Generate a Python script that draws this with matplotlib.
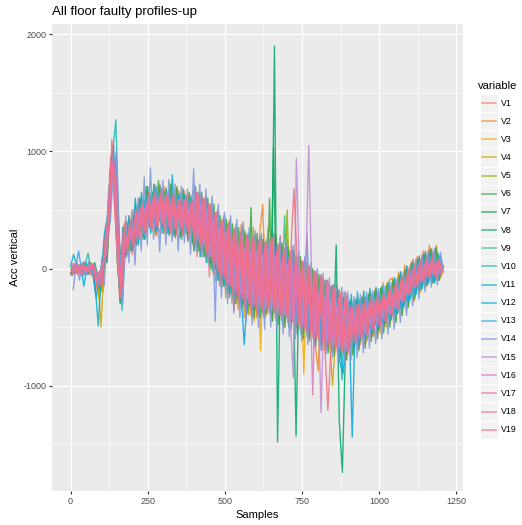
import matplotlib
matplotlib.use("Agg")
import matplotlib.pyplot as plt
from matplotlib.patches import Rectangle
from matplotlib.lines import Line2D

plt.rcParams['font.family'] = ['Liberation Sans', 'DejaVu Sans']
plt.rcParams['axes.unicode_minus'] = False

# sample grid (every 10th sample); each profile was logged with its own start offset
samples = list(range(0, 1201, 10))
start_offsets = [0, 3, 6, 9, 2, 5, 8, 1, 4, 7, 0, 3, 6, 9, 2, 5, 8, 1, 4]

# series (acc vertical)
V1 = [-50, 10, -40, 20, -60, 30, -20, 40, -200, -60,
      -150, 250, 420, 950, 650, 200, -280, 350, 100, 450,
      120, 560, 250, 620, 300, 700, 330, 650, 280, 720,
      350, 690, 300, 640, 260, 620, 300, 660, 230, 600,
      670, 100, 580, 100, 620, -70, 480, -110, 470, -160,
      450, -220, 310, -360, 320, -240, 400, -360, 190, -430,
      300, -380, 250, -420, 350, -300, 220, -450, 280, -380,
      200, -420, 150, -480, 100, -500, 80, -560, 30, -600,
      -20, -650, -100, -700, -150, -720, -200, -760, -250, -740,
      -720, -270, -690, -250, -650, -230, -610, -190, -580, -170,
      -520, -160, -470, -120, -440, -80, -380, -30, -320, 20,
      -230, 80, -200, 110, -150, 150, -110, 170, -120, 120,
      -20]
V2 = [30, -50, 40, -60, 60, -30, 50, -40, -100, -250,
      100, 50, 650, 800, 900, -50, 50, 150, 400, 200,
      500, 200, 600, 300, 250, 650, 400, 720, 350, 300,
      700, 350, 650, 300, 680, 650, 280, 600, 640, 250,
      150, 650, 100, 600, 50, 550, -50, 480, -150, 420,
      -250, 400, -300, 350, -350, 380, -420, 300, -400, 350,
      -420, 300, 550, -380, 250, -450, 300, -400, 200, -500,
      250, -450, 200, -500, 100, -550, 50, -600, -20, -650,
      -870, -50, -700, -100, -720, -150, -150, -760, -200, -780,
      -300, -700, -280, -680, -250, -650, -600, -200, -580, -180,
      -550, -120, -500, -100, -80, -450, -30, -400, 30, -330,
      50, -280, 100, -200, 150, -150, 200, -130, 180, -100,
      30]
V3 = [-20, 40, -60, 10, 30, -50, 40, -30, -150, -20,
      -200, 300, 350, 1000, 700, 300, -250, 400, 150, 350,
      200, 500, 550, 280, 650, 350, 620, 280, 700, 400,
      300, 620, 700, 320, 600, 280, 650, 350, 620, 250,
      650, 250, 600, 150, 550, 50, 450, -50, 400, -150,
      380, -200, 300, -300, 250, -350, 300, -400, 250, -450,
      200, -700, 300, -400, 250, -350, 280, -420, 200, -450,
      150, -480, 100, -500, 50, -900, 0, -580, -50, -600,
      -100, -640, -160, -680, -200, -700, -240, -720, -300, -700,
      -260, -720, -300, -650, -240, -620, -220, -580, -180, -560,
      -160, -500, -120, -460, -100, -420, -50, -360, 0, -300,
      60, -260, 90, -200, 130, -140, 170, -120, 200, -90,
      -40]
V4 = [40, -30, 20, -60, -20, 40, -40, 30, -120, -500,
      80, 100, 550, 850, 750, 150, -100, 200, 300, 250,
      350, 300, 450, 380, 500, 430, 540, 450, 560, 440,
      560, 430, 540, 400, 520, 400, 510, 390, 500, 380,
      600, 300, 550, 250, 480, 150, 380, 50, 300, -50,
      250, -100, 200, -150, 150, -200, 180, -220, 150, -250,
      150, -250, 120, -280, 180, -250, 100, -300, 80, -320,
      60, -350, 20, -380, -20, -400, -60, -420, -100, -480,
      -150, -520, -200, -560, -1000, -600, -300, -640, -350, -660,
      -420, -560, -400, -520, -380, -500, -350, -450, -320, -420,
      -300, -400, -250, -350, -220, -300, -180, -260, -120, -200,
      -60, -130, -20, -100, 20, -50, 60, -30, 50, -40,
      20]
V5 = [0, -40, 30, -20, 50, -10, 20, 0, -40, -150,
      50, 200, 450, 800, 850, 50, -200, 300, 200, 380,
      250, 420, 350, 500, 400, 560, 420, 580, 450, 560,
      430, 570, 420, 540, 400, 530, 390, 520, 380, 500,
      550, 200, 500, 150, 450, 100, 350, 0, 280, -50,
      300, -150, 250, -200, 220, -250, 200, -250, 180, -300,
      200, -300, 150, -280, 180, -320, 150, -350, 100, -380,
      500, -400, 40, -420, 0, -450, -50, -480, -80, -520,
      -150, -560, -200, -600, -230, -640, -280, -660, -320, -680,
      -540, -350, -520, -330, -490, -330, -470, -300, -430, -290,
      -400, -250, -380, -200, -330, -160, -280, -100, -220, -60,
      -150, -10, -100, 20, -60, 50, -30, 60, -40, 40,
      10]
V6 = [-60, 0, 30, -40, 20, -50, 50, -20, -100, -30,
      -100, 180, 600, 750, 900, 0, -50, 180, 350, 150,
      450, 200, 600, 250, 700, 350, 650, 300, 750, 350,
      650, 300, 720, 280, 700, 260, 680, 300, 650, 220,
      700, 150, 650, 100, 600, 0, 550, -100, 450, -150,
      420, -250, 380, -300, 350, -320, 320, -380, 520, -420,
      300, -420, 250, -380, 600, -450, 280, -480, 220, -500,
      180, -520, 150, -560, 100, -600, 50, -620, 0, -660,
      -50, -700, -100, -720, -150, -740, -200, -760, -250, -780,
      -280, -740, -260, -700, -250, -680, -220, -620, -200, -600,
      -170, -550, -140, -500, -100, -460, -60, -400, -10, -330,
      40, -260, 80, -180, 120, -150, 160, -120, 180, -100,
      20]
V7 = [20, -40, 0, 30, -30, 10, -30, 50, -60, -200,
      150, 50, 500, 950, 700, 250, -200, 300, 150, 400,
      200, 450, 500, 350, 550, 400, 600, 450, 550, 650,
      400, 550, 600, 400, 560, 360, 580, 340, 560, 330,
      250, 600, 200, 550, 150, 500, 50, 450, -50, 400,
      -100, 380, -150, 320, -200, 300, -250, 280, -300, 250,
      -320, 250, -350, 200, -300, 1030, -380, 180, -400, 150,
      -420, 120, -450, 80, -480, 50, -500, 0, -540, -50,
      -580, -100, -620, -150, -650, -200, -680, -250, -700, -280,
      -360, -660, -340, -620, -320, -580, -300, -540, -280, -520,
      -240, -470, -220, -420, -190, -380, -140, -320, -90, -260,
      -30, -180, 0, -130, 40, -90, 80, -60, 70, -50,
      20]
V8 = [-40, 20, -30, 0, 40, -30, 10, -10, -80, -50,
      -60, 200, 400, 900, 750, 200, -300, 350, 200, 300,
      300, 400, 350, 500, 400, 550, 450, 500, 600, 400,
      600, 450, 550, 500, 380, 600, 400, 550, 350, 500,
      600, 200, 550, 150, 500, 50, 420, 0, 350, -100,
      300, -150, 250, -200, 220, -280, 200, -300, 180, -350,
      150, -350, 120, -380, 180, -400, 1900, -1480, 100, -420,
      80, -450, 50, -1430, 0, -500, -50, -520, -100, -560,
      -150, -600, -200, -620, -250, -650, 200, -1300, -1740, -700,
      -650, -350, -600, -300, -580, -280, -540, -260, -500, -240,
      -480, -200, -420, -180, -380, -120, -320, -80, -250, -30,
      -200, 20, -150, 60, -100, 100, -60, 100, -80, 60,
      0]
V9 = [10, 30, -50, 20, -40, 30, -10, -20, -60, -120,
      20, 120, 550, 1000, 850, 50, -250, 200, 300, 200,
      400, 250, 500, 300, 600, 380, 550, 400, 650, 380,
      620, 380, 600, 350, 580, 350, 600, 320, 560, 310,
      350, 550, 300, 500, 200, 450, 150, 380, 50, 320,
      -50, 280, -100, 250, -150, 220, -200, 200, -220, 180,
      -250, 180, -280, 150, -250, 200, -300, 120, -320, 450,
      -350, 80, -380, 40, -400, 0, -420, -50, -450, -100,
      -500, -150, -550, -200, -580, -250, -600, -280, -620, -300,
      -300, -680, -300, -640, -280, -620, -260, -560, -240, -540,
      -220, -490, -180, -440, -160, -400, -110, -340, -60, -280,
      -10, -210, 30, -150, 70, -110, 100, -80, 90, -70,
      10]
V10 = [-30, 20, 10, -50, 30, 130, -30, 40, -100, -180,
       60, 250, 600, 1000, 1270, 300, -360, 150, 400, 250,
       200, 550, 300, 600, 350, 650, 380, 700, 400, 680,
       380, 660, 350, 620, 330, 640, 310, 620, 300, 590,
       200, 650, 150, 600, 100, 550, 0, 500, -100, 450,
       -200, 420, -250, 380, -300, 350, -350, 300, -380, 280,
       -400, 280, -420, 250, -380, 300, -450, 220, -480, 180,
       -500, 150, -520, 100, -560, 50, -580, 0, -600, -50,
       -650, -100, -680, -150, -700, -200, -720, -240, -740, -260,
       -580, -280, -560, -260, -540, -240, -500, -220, -480, -210,
       -460, -190, -420, -160, -390, -120, -350, -60, -290, -10,
       -240, 40, -190, 80, -150, 120, -110, 140, -100, 110,
       -10]
V11 = [20, 120, 30, -30, -10, 50, -50, 20, -150, -490,
       -50, 300, 450, 850, 1050, 150, -200, 350, 100, 450,
       150, 600, 200, 650, 250, 700, 300, 720, 320, 700,
       300, 680, 280, 800, 270, 640, 250, 630, 240, 610,
       150, 600, 100, 580, 50, 520, -20, 450, -100, 400,
       -150, 380, -220, 330, -250, 300, -300, 280, -320, 250,
       -350, 240, -370, 220, -340, 230, -380, 200, -400, 170,
       -420, 140, -450, 100, -470, 60, -500, 20, -520, -20,
       -560, -60, -600, -100, -630, -140, -660, -180, -950, -200,
       -620, -220, -620, -200, -600, -190, -560, -170, -540, -160,
       -500, -150, -460, -120, -430, -80, -380, -30, -330, 20,
       -270, 60, -220, 100, -170, 140, -130, 160, -120, 130,
       30]
V12 = [-50, 30, -20, 40, -150, 0, 30, -50, -250, -80,
       80, 50, 500, 950, 900, 100, -150, 250, 200, 350,
       350, 300, 550, 350, 600, 400, 550, 420, 600, 450,
       550, 420, 580, 400, 550, 380, 560, 380, 540, 360,
       550, 250, 500, 200, 450, 120, 380, 50, 300, -20,
       250, -100, 200, -150, 150, -200, -650, -250, 100, -280,
       100, -300, 80, -320, 120, -330, 60, -350, 20, -380,
       -20, -400, -60, -420, -100, -450, -140, -480, -180, -520,
       -220, -560, -260, -600, -300, -640, -350, -800, -900, -650,
       -450, -1440, -400, -650, -380, -600, -350, -550, -320, -520,
       -300, -480, -270, -440, -240, -400, -200, -350, -160, -290,
       -100, -220, -60, -170, -30, -130, 0, -100, -10, -80,
       -20]
V13 = [0, -20, 150, -10, -50, 20, -20, 10, -50, -40,
       -20, 150, 480, 880, 950, 80, -100, 300, 250, 320,
       180, 480, 320, 560, 380, 620, 410, 640, 430, 660,
       430, 640, 400, 620, 380, 600, 370, 590, 360, 570,
       500, 300, 450, 250, 400, 180, 330, 100, 260, 30,
       220, -50, 180, -100, 130, -150, 110, -180, 90, -200,
       80, -220, 60, -240, 90, -250, 40, -270, 10, -300,
       -20, -320, -50, -350, -90, -380, 300, -410, -160, -450,
       -200, -500, -250, -540, -290, -570, -330, -600, -360, -620,
       -570, -370, -540, -350, -510, -330, -470, -300, -440, -280,
       -410, -240, -380, -200, -330, -160, -280, -100, -220, -50,
       -160, 10, -120, 40, -80, 80, -50, 90, -60, 70,
       20]
V14 = [-180, 60, -100, 50, -30, 60, -60, 20, -120, 0,
       -150, 300, 400, 850, 1000, 200, -300, 450, 50, 500,
       30, 600, 150, 780, 200, 860, 250, 700, 140, 750,
       200, 760, 230, 720, 150, 700, 220, 680, 120, 850,
       150, 720, 100, 680, 20, 620, -450, 550, -250, 480,
       -300, 450, -380, 420, -420, 380, -450, 350, -480, 320,
       -500, 300, -520, 280, -500, 300, -540, 260, -560, 220,
       -580, 190, -600, 150, -620, 100, -650, 50, -680, 0,
       -700, -40, -730, -80, -760, -120, -780, -160, -800, -200,
       -780, -240, -760, -220, -720, -200, -680, -190, -640, -170,
       -600, -150, -560, -120, -520, -80, -460, -30, -400, 20,
       -320, 80, -260, 120, -200, 150, -160, 170, -140, 140,
       -30]
V15 = [30, -30, 20, -20, 10, -40, 30, 0, -60, -90,
       40, 100, 550, 900, 800, 50, -100, 280, 200, 280,
       350, 300, 480, 380, 520, 420, 540, 440, 580, 430,
       560, 440, 530, 420, 520, 400, 530, 390, 500, 380,
       600, 250, 550, 200, 500, 100, 420, 30, 350, -50,
       300, -120, 250, -180, 200, -220, 180, -260, 150, -300,
       150, -320, 120, -340, 160, -350, 100, -380, 60, -400,
       30, -420, -930, 940, -60, -480, -100, 1050, -150, -550,
       -200, -1230, -250, -620, -280, -650, -320, -680, -340, -700,
       -400, -590, -380, -560, -360, -530, -330, -480, -310, -450,
       -290, -420, -260, -380, -220, -330, -180, -270, -120, -210,
       -70, -140, -30, -100, 10, -60, 40, -30, 40, -40,
       10]
V16 = [-30, 50, -50, 30, -20, 10, -10, 30, -120, -140,
       0, 200, 450, 880, 850, 150, -200, 300, 200, 350,
       250, 450, 350, 520, 400, 580, 400, 620, 420, 600,
       420, 600, 400, 580, 380, 560, 370, 560, 360, 540,
       300, 600, 250, 560, 180, 500, 100, 430, 20, 380,
       -50, 350, -120, 300, -180, 280, -220, 250, -250, 230,
       -280, 220, -300, 200, -280, 230, -320, 180, -350, 150,
       -380, 120, -400, 80, -430, 40, -460, 0, -1080, -40,
       -540, -80, -580, -120, -620, -160, -650, -200, -680, -220,
       -560, -360, -540, -340, -510, -320, -480, -300, -450, -280,
       -420, -240, -390, -200, -340, -160, -290, -100, -240, -50,
       -170, 0, -130, 30, -90, 70, -60, 90, -70, 60,
       0]
V17 = [40, -40, 30, -50, 20, -30, 40, -10, -40, -150,
       80, 120, 520, 950, 750, 80, -150, 230, 300, 250,
       380, 250, 520, 300, 560, 350, 600, 360, 620, 380,
       620, 360, 600, 340, 580, 330, 580, 320, 560, 300,
       650, 200, 600, 150, 550, 80, 480, 0, 400, -80,
       350, -150, 300, -220, 260, -260, 240, -300, 220, -330,
       200, -350, 170, -370, 220, -360, 160, -400, 120, -420,
       90, -450, 50, -480, 10, -520, -30, -550, -70, -590,
       -120, -630, -170, -660, -210, -690, -250, -710, -280, -720,
       -320, -630, -310, -600, -300, -570, -280, -520, -260, -490,
       -250, -450, -220, -400, -190, -350, -140, -290, -90, -230,
       -40, -170, -10, -120, 30, -80, 60, -50, 60, -50,
       10]
V18 = [-10, 0, 20, -40, 40, -20, -20, 30, -100, -60,
       -80, 220, 380, 920, 680, 150, -250, 320, 180, 380,
       220, 500, 300, 560, 330, 620, 360, 650, 380, 640,
       380, 640, 360, 610, 340, 590, 340, 590, 320, 560,
       250, 650, 200, 600, 130, 550, 60, 480, -30, 420,
       -80, 380, -150, 340, -200, 310, -250, 280, -280, 260,
       -300, 250, -330, 230, -310, 260, -350, 210, -380, 180,
       -400, 150, -430, 110, -460, 70, -490, 30, -520, -20,
       -560, -60, -600, -100, -640, -140, -670, -180, -700, -200,
       -560, -340, -540, -320, -510, -300, -470, -280, -440, -260,
       -420, -230, -380, -190, -340, -150, -290, -90, -230, -40,
       -170, 10, -130, 50, -90, 80, -60, 100, -60, 80,
       -10]
V19 = [-60, 20, -40, 30, -30, 20, -50, 40, -150, -20,
       -120, 300, 420, 1100, 700, 250, -250, 380, 120, 420,
       150, 500, 250, 560, 300, 650, 320, 620, 350, 680,
       330, 640, 300, 620, 290, 600, 280, 620, 260, 580,
       200, 620, 150, 580, 80, 520, -20, 450, -120, 400,
       -150, 380, -230, 330, -280, 300, -320, 280, -350, 260,
       -370, 250, -400, 230, -380, 260, -420, 200, -440, 170,
       -460, 140, 680, 100, -520, 60, -540, 20, -580, -30,
       -620, -80, -650, -1210, -680, -170, -700, -220, -720, -250,
       -680, -330, -640, -300, -600, -270, -560, -240, -520, -220,
       -480, -200, -440, -150, -400, -100, -340, -60, -280, 0,
       -210, 40, -160, 80, -120, 100, -80, 120, -90, 80,
       -40]

series = [V1, V2, V3, V4, V5, V6, V7, V8, V9, V10,
          V11, V12, V13, V14, V15, V16, V17, V18, V19]
names = ["V%d" % (i + 1) for i in range(len(series))]
colors = ["#F8766D", "#EE8A2A", "#F2A900", "#CBA800", "#8DB600",
          "#3AA63A", "#119A50", "#00A86A", "#33BB99", "#20B8B0",
          "#00B0C8", "#00A8E0", "#30A8F0", "#7F98DC", "#C08CD0",
          "#E07AC0", "#F06CA8", "#F5709A", "#F0707F"]

W, H = 522, 525
fig = plt.figure(figsize=(W / 100, H / 100), dpi=100)
fig.patch.set_facecolor("white")

# panel
ax = fig.add_axes([52 / W, 1 - 491 / H, 411 / W, 467 / H])
ax.set_facecolor("#EBEBEB")
for s in ax.spines.values():
    s.set_visible(False)

for vals, col, off in zip(series, colors, start_offsets):
    xs = [s + off for s in samples]
    ax.plot(xs, vals, color=col, lw=1.0, alpha=0.85, zorder=3)

ax.set_xlim(-60, 1272)
ax.set_ylim(-1899, 2087)
ax.set_xticks([0, 250, 500, 750, 1000, 1250])
ax.set_xticks([125, 375, 625, 875, 1125], minor=True)
ax.set_yticks([-1000, 0, 1000, 2000])
ax.set_yticks([-1500, -500, 500, 1500], minor=True)
ax.grid(which="major", color="white", lw=0.8, zorder=0)
ax.grid(which="minor", color="white", lw=0.4, zorder=0)
ax.set_axisbelow(True)
ax.tick_params(which="major", length=2.2, width=0.8, color="#333333",
               labelsize=6.5, labelcolor="#4D4D4D", pad=2)
ax.tick_params(which="minor", length=0)

ax.set_xlabel("Samples", fontsize=8, labelpad=3)
ax.set_ylabel("Acc vertical", fontsize=8, labelpad=2)
fig.text(52 / W, 1 - 12 / H, "All floor faulty profiles-up", fontsize=9.5,
         ha="left", va="center")

# legend
fig.text(478 / W, 1 - 86 / H, "variable", fontsize=8, ha="left", va="center")
step = 18.15
for i, (nm, col) in enumerate(zip(names, colors)):
    yc = 103 + i * step
    fig.add_artist(Rectangle((480 / W, 1 - (yc + step / 2) / H), 17.5 / W, step / H,
                             transform=fig.transFigure, facecolor="#F2F2F2",
                             edgecolor="white", lw=0.8))
    fig.add_artist(Line2D([482 / W, 495.5 / W], [1 - yc / H, 1 - yc / H],
                          transform=fig.transFigure, color=col, lw=1.1, alpha=0.75))
    fig.text(501 / W, 1 - yc / H, nm, fontsize=6.3, ha="left", va="center")

fig.savefig("out.png", dpi=100)
